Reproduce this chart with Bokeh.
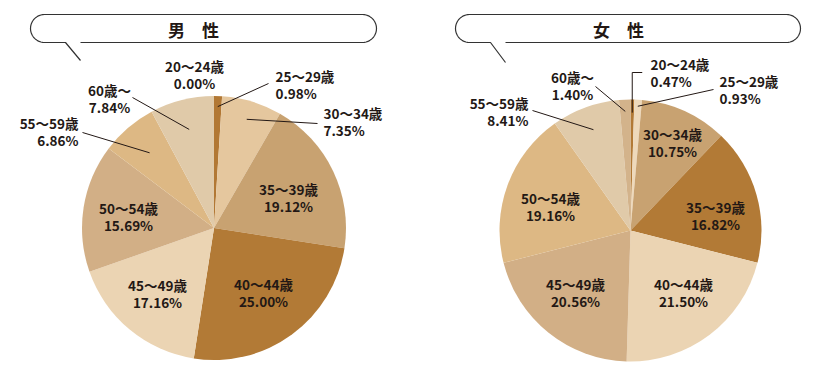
import numpy as np
from bokeh.plotting import figure
from bokeh.models import Range1d, ColumnDataSource
from bokeh.core.properties import value
from bokeh.embed import file_html
from bokeh.resources import INLINE

# ---------------- data ----------------
categories = ["20～24歳", "25～29歳", "30～34歳", "35～39歳", "40～44歳",
              "45～49歳", "50～54歳", "55～59歳", "60歳～"]
male_values = [0.00, 0.98, 7.35, 19.12, 25.00, 17.16, 15.69, 6.86, 7.84]
female_values = [0.47, 0.93, 10.75, 16.82, 21.50, 20.56, 19.16, 8.41, 1.40]
titles = ["男　性", "女　性"]

# ---------------- styles ----------------
male_colors = ["#b27a36", "#b27834", "#e5c79e", "#c8a271", "#b27a36",
               "#ebd4b3", "#d2af86", "#ddb884", "#e0caa9"]
female_colors = ["#b27a36", "#eed9bb", "#c8a271", "#b27a36", "#ebd4b3",
                 "#d2af86", "#ddb884", "#e0caa9", "#d3b38b"]

FONT = value("Noto Sans CJK JP")
TXT = "#231815"
W, H = 830, 371


def X(x):
    return x


def Y(y):
    return H - y


p = figure(width=W, height=H, x_range=Range1d(0, W), y_range=Range1d(0, H),
           output_backend="svg", toolbar_location=None, min_border=0)
p.axis.visible = False
p.grid.visible = False
p.outline_line_color = None
p.background_fill_color = "white"
p.border_fill_color = "white"


def bubble(x0, x1, y0, y1, tx0, tx1, ty, text, text_x):
    rr = (y1 - y0) / 2
    cy = (y0 + y1) / 2
    pts = [(tx1, y1), (x1 - rr, y1)]
    for t in np.linspace(np.pi / 2, -np.pi / 2, 25):
        pts.append((x1 - rr + rr * np.cos(t), cy + rr * np.sin(t)))
    pts.append((x0 + rr, y0))
    for t in np.linspace(3 * np.pi / 2, np.pi / 2, 25):
        pts.append((x0 + rr + rr * np.cos(t), cy + rr * np.sin(t)))
    pts.append((tx0, y1))
    pts.append((tx1, ty))
    p.line([X(a) for a, b in pts], [Y(b) for a, b in pts],
           line_color="#333333", line_width=1.2)
    p.text([X(text_x)], [Y(cy + 1)], text=[text], text_font=FONT,
           text_font_style="bold", text_font_size="17px", text_align="center",
           text_baseline="middle", text_color=TXT)


def pie(cx, cy, r, vals, colors, layout):
    vals = np.array(vals, dtype=float)
    frac = vals / vals.sum()
    ends = np.cumsum(frac)
    starts = ends - frac
    mids = (starts + ends) / 2
    keep = vals > 0
    src = ColumnDataSource(dict(
        x=[X(cx)] * int(keep.sum()), y=[Y(cy)] * int(keep.sum()),
        s=list(np.pi / 2 - 2 * np.pi * starts[keep]),
        e=list(np.pi / 2 - 2 * np.pi * ends[keep]),
        c=[c for c, k in zip(colors, keep) if k]))
    p.wedge(x="x", y="y", radius=r, start_angle="s", end_angle="e",
            direction="clock", fill_color="c", line_color=None, source=src)

    for i, (cat, v) in enumerate(zip(categories, vals)):
        lx, ly, align, leader = layout[i]
        p.text([X(lx)], [Y(ly)], text=[cat], text_font=FONT,
               text_font_style="bold", text_font_size="13.5px", text_align=align,
               text_baseline="middle", text_color=TXT)
        p.text([X(lx)], [Y(ly + 17)], text=[f"{v:.2f}%"], text_font=FONT,
               text_font_style="bold", text_font_size="13.5px", text_align=align,
               text_baseline="middle", text_color=TXT)
        if leader is not None:
            f, pts = leader
            ang = 2 * np.pi * mids[i]
            sx = cx + f * r * np.sin(ang)
            sy = cy - f * r * np.cos(ang)
            if pts == "elbow":
                path = [(sx, sy), (sx, 72), (sx + 10, 72)]
            else:
                path = [(sx, sy), pts]
            p.line([X(a) for a, b in path], [Y(b) for a, b in path],
                   line_color="#231815", line_width=1)


# label layout: (x, y of first line, align, leader(frac of radius, end point))
male_layout = [
    (194, 65, "center", None),
    (275, 75, "left", (0.92, (268, 83))),
    (323, 112, "left", (0.86, (317, 123))),
    (288, 188, "center", None),
    (263, 283, "center", None),
    (157, 284, "center", None),
    (128, 207, "center", None),
    (78, 122, "right", (0.75, (82, 132))),
    (109, 89, "center", (0.77, (132, 97))),
]
female_layout = [
    (650, 63, "left", (0.9, "elbow")),
    (719, 80, "left", (0.95, (713, 89))),
    (672, 133, "center", None),
    (715, 206, "center", None),
    (683, 283, "center", None),
    (575, 283, "center", None),
    (550, 197, "center", None),
    (528, 102, "right", (0.82, (532, 110))),
    (572, 76, "center", (0.91, (595, 86))),
]

pie(213.5, 227.5, 132, male_values, male_colors, male_layout)
pie(630, 230, 131, female_values, female_colors, female_layout)

bubble(30, 376, 14, 42, 65, 80, 60, titles[0], 193)
bubble(455, 800, 14, 42, 490, 505, 62, titles[1], 618)

open("out.html", "w").write(file_html(p, INLINE))
